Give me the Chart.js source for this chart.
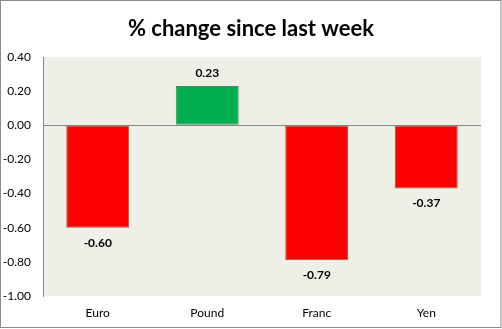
<!DOCTYPE html>
<html>
<head>
<meta charset="utf-8">
<script src="https://cdn.jsdelivr.net/npm/chart.js@4"></script>
<style>
  html, body { margin: 0; padding: 0; background: #fff; }
  canvas { display: block; }
</style>
</head>
<body>
<canvas id="fx-chart" width="502" height="329"></canvas>
<script>
// currency moves, % change since last week
const currencies = ["Euro", "Pound", "Franc", "Yen"];
const changes = [-0.60, 0.23, -0.79, -0.37];
const yTicks = [0.40, 0.20, 0.00, -0.20, -0.40, -0.60, -0.80, -1.00];

const FONT = "Lato, 'Open Sans', sans-serif";

// fill plot area + outer frame
const framePlugin = {
  id: "frame",
  beforeDraw(chart) {
    const { ctx, chartArea: a } = chart;
    ctx.save();
    ctx.fillStyle = "#EEF0E8";
    ctx.fillRect(a.left, a.top, a.right - a.left, a.bottom - a.top);
    ctx.strokeStyle = "#8c8c8c";
    ctx.lineWidth = 1;
    ctx.strokeRect(0.5, 0.5, 500.5, 327);
    ctx.restore();
  }
};

// value labels above / below each bar
const valueLabels = {
  id: "valueLabels",
  afterDatasetsDraw(chart) {
    const { ctx } = chart;
    const meta = chart.getDatasetMeta(0);
    ctx.save();
    ctx.font = "bold 12px " + FONT;
    ctx.fillStyle = "#000";
    ctx.textAlign = "center";
    ctx.textBaseline = "middle";
    meta.data.forEach((bar, i) => {
      const v = changes[i];
      const y = v >= 0 ? bar.y - 13 : bar.y + 15;
      ctx.fillText(v.toFixed(2), bar.x, y);
    });
    ctx.restore();
  }
};

const fmt = v => (Math.abs(v) < 1e-9 ? "0.00" : v.toFixed(2));

new Chart(document.getElementById("fx-chart"), {
  type: "bar",
  data: {
    labels: currencies,
    datasets: [{
      data: changes,
      backgroundColor: changes.map(v => v >= 0 ? "#00B050" : "#FF0000"),
      borderColor: changes.map(v => v >= 0 ? "#4E8A5E" : "#9C5A2E"),
      borderWidth: 1,
      borderSkipped: false,
      barPercentage: 0.575,
      categoryPercentage: 1
    }]
  },
  options: {
    responsive: false,
    animation: false,
    layout: { padding: 0 },
    plugins: {
      legend: { display: false },
      tooltip: { enabled: false },
      title: {
        display: true,
        text: "% change since last week",
        color: "#000",
        font: { family: FONT, size: 22, weight: "bold" },
        padding: { top: 16, bottom: 14.6 }
      }
    },
    scales: {
      x: {
        grid: { display: false },
        border: { display: false },
        ticks: {
          color: "#000",
          font: { family: FONT, size: 12 },
          padding: 2
        },
        afterFit: s => { s.height = 33; }
      },
      y: {
        min: -1,
        max: 0.4,
        afterBuildTicks: s => { s.ticks = yTicks.map(v => ({ value: v })); },
        grid: {
          drawTicks: false,
          color: c => (Math.abs(c.tick.value) < 1e-9 ? "#868686" : "transparent")
        },
        border: { display: true, color: "#868686" },
        ticks: {
          color: "#000",
          font: { family: FONT, size: 12 },
          padding: 12,
          callback: v => fmt(v)
        },
        afterFit: s => { s.width = 43; }
      },
      // empty right margin so the title centres on the whole canvas
      yRight: {
        position: "right",
        grid: { display: false },
        border: { display: false },
        ticks: { display: false },
        afterFit: s => { s.width = 21; }
      }
    }
  },
  plugins: [framePlugin, valueLabels]
});
</script>
</body>
</html>
